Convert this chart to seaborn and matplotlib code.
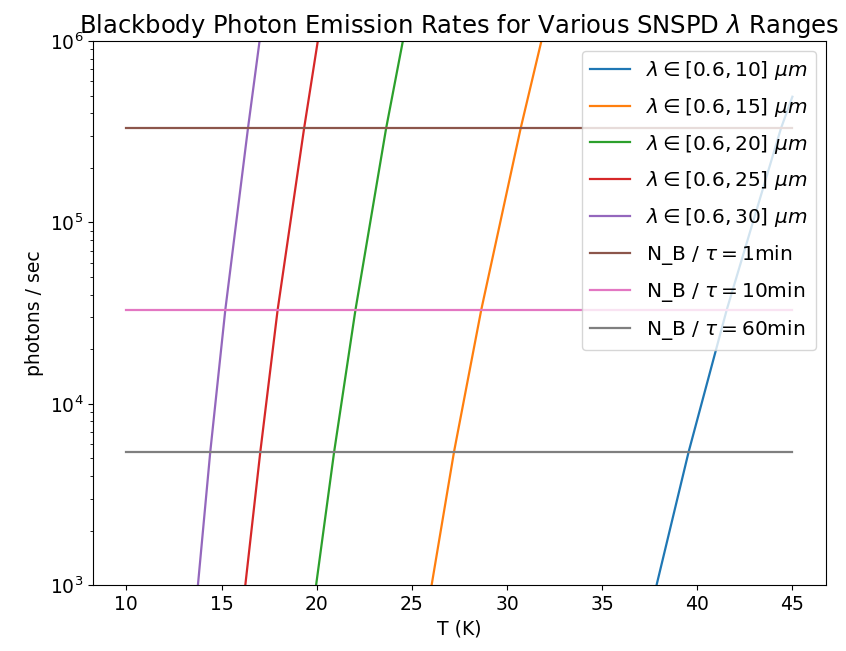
import numpy as np
import pandas as pd
import seaborn as sns
import matplotlib
matplotlib.use("Agg")
import matplotlib.pyplot as plt

# temperatures (K) and rates (photons/sec)
T_10 = [37.86, 39.55, 41.55, 44.4, 45.0]
R_10 = [1.0e3, 5.45e3, 3.3e4, 3.3e5, 4.93e5]
T_15 = [26.04, 27.22, 28.65, 30.72, 31.81]
R_15 = [1.0e3, 5.45e3, 3.3e4, 3.3e5, 1.0e6]
T_20 = [19.97, 20.92, 22.04, 23.65, 24.53]
R_20 = [1.0e3, 5.45e3, 3.3e4, 3.3e5, 1.0e6]
T_25 = [16.25, 17.04, 17.95, 19.34, 20.06]
R_25 = [1.0e3, 5.45e3, 3.3e4, 3.3e5, 1.0e6]
T_30 = [13.76, 14.41, 15.2, 16.39, 17.0]
R_30 = [1.0e3, 5.45e3, 3.3e4, 3.3e5, 1.0e6]

lam_max = [10, 15, 20, 25, 30]

# N_B / tau thresholds
tau_labels = ["1min", "10min", "60min"]
tau_rates = [3.3e5, 3.3e4, 5.45e3]
T_range = [10, 45]

curves = [(T_10, R_10), (T_15, R_15), (T_20, R_20), (T_25, R_25), (T_30, R_30)]

fig = plt.figure(figsize=(8.46, 6.51), dpi=100)
ax = fig.add_axes([0.110, 0.101, 0.866, 0.836])

palette = sns.color_palette("tab10")
for i, (t, r) in enumerate(curves):
    df = pd.DataFrame({"T": t, "rate": r})
    sns.lineplot(data=df, x="T", y="rate", ax=ax, color=palette[i], linewidth=1.6,
                 label=rf"$\lambda \in [0.6, {lam_max[i]}]~\mu m$")

for j, (lab, rate) in enumerate(zip(tau_labels, tau_rates)):
    df = pd.DataFrame({"T": T_range, "rate": [rate, rate]})
    sns.lineplot(data=df, x="T", y="rate", ax=ax, color=palette[5 + j], linewidth=1.6,
                 label=r"N_B / $\tau = $" + lab)

ax.set_yscale("log")
ax.set_ylim(1e3, 1e6)
ax.set_xlim(8.25, 46.75)
ax.set_xlabel("T (K)", fontsize=13.5)
ax.set_ylabel("photons / sec", fontsize=13.5)
ax.set_title(r"Blackbody Photon Emission Rates for Various SNSPD $\lambda$ Ranges", fontsize=17.5)
ax.tick_params(labelsize=13.5)
ax.legend(loc="upper right", fontsize=14.5, labelspacing=0.68)

fig.savefig("out.png", dpi=100)
